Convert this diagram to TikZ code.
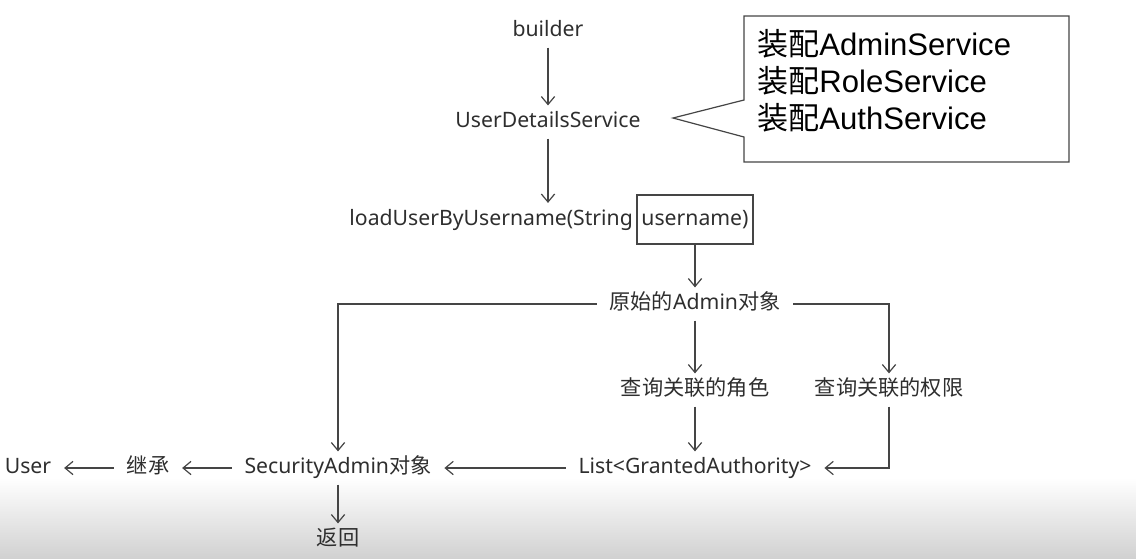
\documentclass[tikz,border=0pt]{standalone}
\usepackage{fontspec}
\setmainfont{Noto Sans}
\newfontfamily\cjk{Noto Sans CJK SC}
\newfontfamily\notefont{Liberation Sans}
\usetikzlibrary{arrows.meta}
\definecolor{ink}{HTML}{2E2E2E}
\definecolor{linec}{HTML}{454545}
\begin{document}
\begin{tikzpicture}[x=0.75pt,y=-0.75pt,
  lbl/.style={font=\fontsize{15.9}{19}\selectfont, text=ink, inner xsep=9.5pt, inner ysep=7pt, text height=0.95em, text depth=0.1em},
  arr/.style={draw=linec, line width=0.9pt, -{Straight Barb[length=6pt,width=10pt]}},
  ln/.style={draw=linec, line width=0.9pt},
  notetxt/.style={anchor=base west, inner sep=0pt, font=\fontsize{23.3}{28}\selectfont\notefont, text=black}]
\useasboundingbox (0,0) rectangle (1136,558);
\shade[top color=white, bottom color=black!18] (0,478) rectangle (1136,558);
% main flow
\node[lbl] (builder) at (548,31) {builder};
\node[lbl] (uds) at (548,122) {UserDetailsService};
\node[lbl, draw=linec, line width=0.9pt, inner sep=0pt, minimum width=87pt, minimum height=36.75pt] (uname) at (695,219.5) {username)};
\node[lbl, anchor=east, inner xsep=1.5pt] (load) at ([xshift=-1pt]uname.west) {loadUserByUsername(String};
\node[lbl] (orig) at (695,304) {{\cjk 原始的}Admin{\cjk 对象}};
\node[lbl] (role) at (695,390) {\cjk 查询关联的角色};
\node[lbl] (perm) at (889,390) {\cjk 查询关联的权限};
\node[lbl] (list) at (695,468) {List<GrantedAuthority>};
\node[lbl] (sec) at (338,468) {SecurityAdmin{\cjk 对象}};
\node[lbl] (inh) at (148,468) {\cjk 继承};
\node[lbl] (user) at (28,468) {User};
\node[lbl] (ret) at (338,540) {\cjk 返回};
% connectors
\draw[arr] (builder) -- (uds);
\draw[arr] (uds.south) -- (uds.south |- load.north);
\draw[arr] (uname) -- (orig);
\draw[arr] (orig.west) -| (sec.north);
\draw[arr] (orig.east) -| (perm.north);
\draw[arr] (orig) -- (role);
\draw[arr] (role) -- (list);
\draw[arr] (perm.south) |- (list.east);
\draw[arr] (list) -- (sec);
\draw[arr] (sec) -- (inh);
\draw[arr] (inh) -- (user);
\draw[arr] (sec) -- (ret);
% callout
\draw[ln, fill=white] (744,100) -- (744,16) -- (1069,16) -- (1069,162) -- (744,162) -- (744,137) -- (673,118) -- cycle;
\node[notetxt] (note1) at (757,55) {{\cjk 装配}AdminService};
\node[notetxt] (note2) at (757,92) {{\cjk 装配}RoleService};
\node[notetxt] (note3) at (757,129) {{\cjk 装配}AuthService};
\end{tikzpicture}
\end{document}
